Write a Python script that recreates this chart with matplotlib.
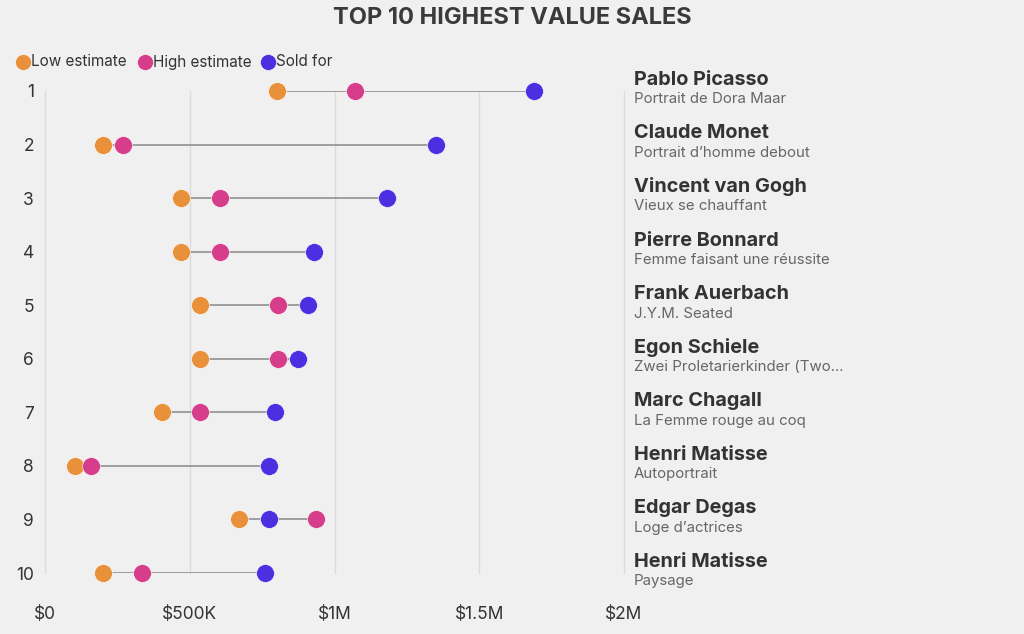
import matplotlib.pyplot as plt

plt.rcParams['font.family'] = ['Inter', 'DejaVu Sans']

# data (in $K)
ranks = ['1', '2', '3', '4', '5', '6', '7', '8', '9', '10']
artists = ['Pablo Picasso', 'Claude Monet', 'Vincent van Gogh', 'Pierre Bonnard',
           'Frank Auerbach', 'Egon Schiele', 'Marc Chagall', 'Henri Matisse',
           'Edgar Degas', 'Henri Matisse']
works = ['Portrait de Dora Maar', 'Portrait d\u2019homme debout', 'Vieux se chauffant',
         'Femme faisant une réussite', 'J.Y.M. Seated', 'Zwei Proletarierkinder (Two...',
         'La Femme rouge au coq', 'Autoportrait', 'Loge d\u2019actrices', 'Paysage']
low_est = [800, 200, 470, 470, 535, 535, 405, 105, 670, 200]
high_est = [1070, 270, 605, 605, 805, 805, 535, 160, 935, 335]
sold_for = [1690, 1350, 1180, 930, 910, 875, 795, 775, 775, 760]

c_low = '#e8903a'
c_high = '#d63d8b'
c_sold = '#4b2fe0'

fig = plt.figure(figsize=(10.24, 6.34), dpi=100)
fig.patch.set_facecolor('#f0f0f0')
ax = fig.add_axes([0.044, 0.0962, 0.5654, 0.7603])
ax.set_facecolor('#f0f0f0')

ys = list(range(1, 11))
for y, a, b, c in zip(ys, low_est, high_est, sold_for):
    ax.plot([min(a, b, c), max(a, b, c)], [y, y], color='#888888', lw=1.1, zorder=2)

for vals, col in [(low_est, c_low), (high_est, c_high), (sold_for, c_sold)]:
    ax.scatter(vals, ys, s=165, color=col, edgecolor='white', linewidth=0.4,
               zorder=3, clip_on=False)

ax.set_xlim(0, 2000)
ax.set_ylim(10, 1)
ax.set_xticks([0, 500, 1000, 1500, 2000])
ax.set_xticklabels(['$0', '$500K', '$1M', '$1.5M', '$2M'])
ax.set_yticks(ys)
ax.set_yticklabels(ranks)
ax.tick_params(length=0, labelsize=12.5, labelcolor='#333333')
ax.tick_params(axis='x', pad=24)
ax.tick_params(axis='y', pad=8)
for gx in [0, 500, 1000, 1500, 2000]:
    ax.axvline(gx, color='#dcdcdc', lw=1, zorder=1, clip_on=False)
for s in ax.spines.values():
    s.set_visible(False)

# labels on the right
for y, name, work in zip(ys, artists, works):
    ax.annotate(name, xy=(1, y), xycoords=('axes fraction', 'data'), xytext=(7, 8),
                textcoords='offset points', fontsize=14.3, fontweight='bold',
                color='#333333', va='center', ha='left')
    ax.annotate(work, xy=(1, y), xycoords=('axes fraction', 'data'), xytext=(7, -6),
                textcoords='offset points', fontsize=10.8, color='#666666',
                va='center', ha='left')

fig.text(0.5, 0.972, 'TOP 10 HIGHEST VALUE SALES', ha='center', va='center',
         fontsize=17, fontweight='bold', color='#3a3a3a')

# legend
leg_items = [('Low estimate', c_low, 0.0225), ('High estimate', c_high, 0.1415),
             ('Sold for', c_sold, 0.2615)]
for lab, col, x in leg_items:
    fig.add_artist(plt.Line2D([x], [1 - 62 / 634], marker='o', markersize=11.5,
                              color=col, markeredgecolor='white', markeredgewidth=0.4,
                              transform=fig.transFigure, linestyle='none'))
    fig.text(x + 0.008, 1 - 62 / 634, lab, ha='left', va='center', fontsize=11,
             color='#333333')

fig.savefig('out.png', dpi=100, facecolor=fig.get_facecolor())
